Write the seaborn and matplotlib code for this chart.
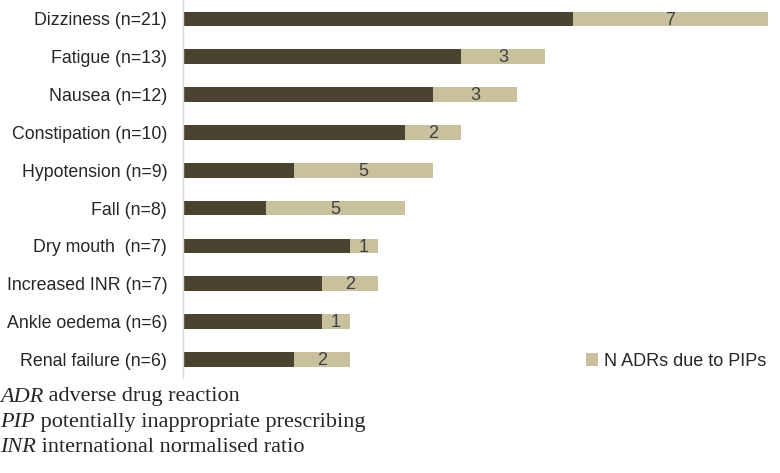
import matplotlib.pyplot as plt
import seaborn as sns
import numpy as np
import pandas as pd

categories = ["Dizziness (n=21)", "Fatigue (n=13)", "Nausea (n=12)", "Constipation (n=10)",
              "Hypotension (n=9)", "Fall (n=8)", "Dry mouth  (n=7)", "Increased INR (n=7)",
              "Ankle oedema (n=6)", "Renal failure (n=6)"]
n_total = [21, 13, 12, 10, 9, 8, 7, 7, 6, 6]
n_pip = [7, 3, 3, 2, 5, 5, 1, 2, 1, 2]

dark = "#4a4330"
light = "#c9c19d"

df = pd.DataFrame({"cat": categories, "total": n_total, "pip": n_pip})
df["other"] = df["total"] - df["pip"]

sns.set_style("white")
plt.rcParams["font.family"] = ["Liberation Sans", "DejaVu Sans"]

fig = plt.figure(figsize=(7.8, 4.73), dpi=100)
ax = fig.add_axes([0.234, 0.2, 0.75, 0.8])

sns.barplot(data=df, x="total", y="cat", color=light, width=0.39, ax=ax,
            saturation=1, linewidth=0, label="N ADRs due to PIPs")
sns.barplot(data=df, x="other", y="cat", color=dark, width=0.39, ax=ax, saturation=1, linewidth=0)

for i, row in df.iterrows():
    ax.text(row["other"] + row["pip"] / 2, i + 0.03, str(row["pip"]), ha="center", va="center",
            fontsize=13, color="#404040")

ax.set_xlim(0, 21)
ax.set_xlabel("")
ax.set_ylabel("")
ax.set_xticks([])
ax.tick_params(axis="y", length=0, labelsize=12.8, pad=11)
for s in ["top", "right", "bottom"]:
    ax.spines[s].set_visible(False)
ax.spines["left"].set_color("#d9d9d9")
ax.spines["left"].set_linewidth(1)

ax.legend(loc="lower right", frameon=False, fontsize=13, handlelength=0.7, handleheight=0.7,
          handletextpad=0.3, bbox_to_anchor=(1.025, -0.02))

foot = [("ADR", " adverse drug reaction"), ("PIP", " potentially inappropriate prescribing"),
        ("INR", " international normalised ratio")]
for k, (ab, txt) in enumerate(foot):
    y = 1 - (397 + 25 * k) / 473
    t = fig.text(0.0, y, ab, fontsize=16, family="Liberation Serif", style="italic", va="center")
    fig.canvas.draw()
    bb = t.get_window_extent()
    fig.text(bb.x1 / fig.bbox.width, y, txt, fontsize=16, family="Liberation Serif", va="center")

fig.savefig("out.png", dpi=100)
